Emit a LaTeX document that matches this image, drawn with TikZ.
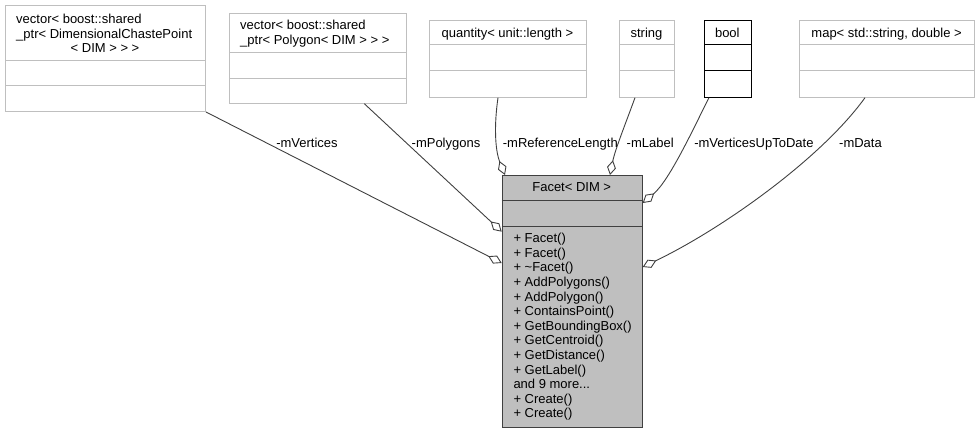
\documentclass[tikz,border=0pt]{standalone}
\usepackage{fontspec}
\setmainfont{Liberation Sans}
\usetikzlibrary{arrows.meta,calc}
\definecolor{boxgray}{HTML}{BFBFBF}
\definecolor{edgegray}{HTML}{404040}
\definecolor{facetfill}{HTML}{BFBFBF}
\newcommand\myMoreDots{...}
\begin{document}
\begin{tikzpicture}[x=1pt,y=-1pt,
  umlbox/.style={draw=boxgray, line width=1pt, fill=white, inner sep=0pt, anchor=north west},
  boolbox/.style={umlbox, draw=black},
  facetbox/.style={umlbox, draw=edgegray, fill=facetfill},
  divider/.style={draw=boxgray, line width=1pt},
  bdivider/.style={draw=black, line width=1pt},
  fdivider/.style={draw=edgegray, line width=1pt},
  txt/.style={inner sep=0pt, font=\fontsize{13}{14.6}\selectfont},
  ctxt/.style={txt, anchor=base},
  ltxt/.style={txt, anchor=base west},
  lbl/.style={txt, anchor=base},
  edge/.style={draw=edgegray, line width=0.9pt, -{Diamond[open,length=15pt,width=9pt]}}
]
\useasboundingbox (0,0) rectangle (979,433);

% ---- boxes ----
\node[umlbox, minimum width=200pt, minimum height=106pt] (vtx) at (5,5) {};
\draw[divider] ($(vtx.north west)+(0,56)$) -- ($(vtx.north east)+(0,56)$);
\draw[divider] ($(vtx.north west)+(0,81)$) -- ($(vtx.north east)+(0,81)$);
\node[ltxt] (vtxt1) at (16,23.8) {vector< boost::shared};
\node[ltxt] (vtxt2) at (16,38.4) {\_ptr< DimensionalChastePoint};
\node[ctxt] (vtxt3) at (105,53) {< DIM > > >};

\node[umlbox, minimum width=176.4pt, minimum height=89.4pt] (poly) at (229.3,13.3) {};
\draw[divider] ($(poly.north west)+(0,39)$) -- ($(poly.north east)+(0,39)$);
\draw[divider] ($(poly.north west)+(0,65.4)$) -- ($(poly.north east)+(0,65.4)$);
\node[ltxt] (ptxt1) at (240,29.5) {vector< boost::shared};
\node[ltxt] (ptxt2) at (240,44.1) {\_ptr< Polygon< DIM > > >};

\node[umlbox, minimum width=156.4pt, minimum height=76.7pt] (qty) at (429.3,20) {};
\draw[divider] ($(qty.north west)+(0,25)$) -- ($(qty.north east)+(0,25)$);
\draw[divider] ($(qty.north west)+(0,51)$) -- ($(qty.north east)+(0,51)$);
\node[ctxt] (qtxt) at (507.5,37.8) {quantity< unit::length >};

\node[umlbox, minimum width=55pt, minimum height=76.7pt] (str) at (619,20) {};
\draw[divider] ($(str.north west)+(0,25)$) -- ($(str.north east)+(0,25)$);
\draw[divider] ($(str.north west)+(0,51)$) -- ($(str.north east)+(0,51)$);
\node[ctxt] (stxt) at (646.5,37.8) {string};

\node[boolbox, minimum width=46.7pt, minimum height=76.7pt] (bool) at (704,20) {};
\draw[bdivider] ($(bool.north west)+(0,25)$) -- ($(bool.north east)+(0,25)$);
\draw[bdivider] ($(bool.north west)+(0,51)$) -- ($(bool.north east)+(0,51)$);
\node[ctxt] (btxt) at (727.3,37.8) {bool};

\node[umlbox, minimum width=174.7pt, minimum height=76.7pt] (map) at (799.3,20) {};
\draw[divider] ($(map.north west)+(0,25)$) -- ($(map.north east)+(0,25)$);
\draw[divider] ($(map.north west)+(0,51)$) -- ($(map.north east)+(0,51)$);
\node[ctxt] (mtxt) at (886.6,37.8) {map< std::string, double >};

% ---- Facet ----
\node[facetbox, minimum width=140pt, minimum height=251.7pt] (facet) at (501.7,175) {};
\draw[fdivider] ($(facet.north west)+(0,25)$) -- ($(facet.north east)+(0,25)$);
\draw[fdivider] ($(facet.north west)+(0,51)$) -- ($(facet.north east)+(0,51)$);
\node[ctxt] (ftitle) at (571.7,191.2) {Facet< DIM >};
\foreach \t [count=\i from 0] in {{+ Facet()},{+ Facet()},{+ \textasciitilde Facet()},{+ AddPolygons()},{+ AddPolygon()},{+ ContainsPoint()},{+ GetBoundingBox()},{+ GetCentroid()},{+ GetDistance()},{+ GetLabel()},{and 9 more\myMoreDots},{+ Create()},{+ Create()}}
  \node[ltxt] (fm\i) at (513.3,242.8+14.58*\i) {\t};

% ---- connectors ----
\draw[edge] (vtx.south east) -- ($(facet.north west)+(0,88)$);
\draw[edge] ($(poly.south west)+(135,0)$) -- ($(facet.north west)+(0,56.7)$);
\draw[edge] ($(qty.south west)+(68.7,0)$) .. controls (494,125) and (495,150) .. ($(facet.north west)+(3.3,0)$);
\draw[edge] ($(str.south west)+(16,0)$) .. controls (625,125) and (615,150) .. ($(facet.north west)+(108.3,0)$);
\draw[edge] ($(bool.south west)+(5,0)$) .. controls (695,125) and (670,180) .. ($(facet.north east)+(0,28)$);
\draw[edge] ($(map.south west)+(65.7,0)$) .. controls (820,160) and (720,230) .. ($(facet.north east)+(0,92)$);

% ---- labels ----
\node[lbl] (l1) at (307,147) {-mVertices};
\node[lbl] (l2) at (446,147) {-mPolygons};
\node[lbl] (l3) at (560.3,147) {-mReferenceLength};
\node[lbl] (l4) at (650.2,147) {-mLabel};
\node[lbl] (l5) at (753.9,147) {-mVerticesUpToDate};
\node[lbl] (l6) at (860.5,147) {-mData};
\end{tikzpicture}
\end{document}
